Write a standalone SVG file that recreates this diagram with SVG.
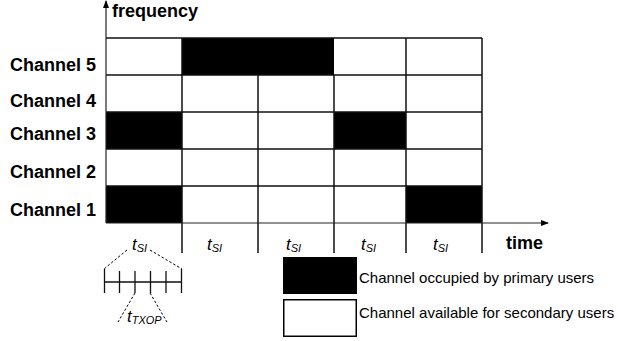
<svg xmlns="http://www.w3.org/2000/svg" width="618" height="341" viewBox="0 0 618 341">
<style>
.lbl{font-family:"Liberation Sans",Arial,sans-serif;font-weight:bold;font-size:18px;fill:#000}
.leg{font-family:"Liberation Sans",Arial,sans-serif;font-size:15px;fill:#000}
.it{font-family:"Liberation Sans",Arial,sans-serif;font-style:italic;fill:#000}
.grid{stroke:#111;stroke-width:1.5;fill:none}
.ax{stroke:#222;stroke-width:1.2;fill:none}
.dash{stroke:#000;stroke-width:1;stroke-dasharray:2.5,2;fill:none}
.occ{fill:#000}
</style>
<defs>
<marker id="arr" markerWidth="8" markerHeight="6" refX="7" refY="3" orient="auto" markerUnits="userSpaceOnUse">
<path d="M0,0 L8,3 L0,6 Z" fill="#000"/>
</marker>
</defs>
<rect width="618" height="341" fill="#fff"/>
<g id="occupied-cells">
<rect class="occ" x="182" y="38" width="152" height="37"/>
<rect class="occ" x="106" y="112" width="76" height="37"/>
<rect class="occ" x="334" y="112" width="72" height="37"/>
<rect class="occ" x="106" y="186" width="76" height="37"/>
<rect class="occ" x="406" y="186" width="76" height="37"/>
</g>
<g id="grid">
<path class="grid" d="M106,38 H482 M106,75 H482 M106,112 H482 M106,149 H482 M106,186 H482"/>
<path class="grid" d="M182,38 V253 M258,75 V253 M334,75 V253 M406,38 V253 M482,38 V253"/>
</g>
<g id="connectors">
<line class="ax" x1="106" y1="223" x2="106" y2="1" marker-end="url(#arr)"/>
<line class="ax" x1="106" y1="223" x2="548" y2="223" marker-end="url(#arr)"/>
<path class="dash" d="M127,250 L104,269 M150,250 L182,269 M135,293 L118,322 M150,293 L167,322"/>
</g>
<g id="axis-labels">
<text class="lbl" x="112" y="17">frequency</text>
<text class="lbl" x="506" y="249">time</text>
</g>
<g id="channel-labels">
<text class="lbl" x="96" y="71" text-anchor="end">Channel 5</text>
<text class="lbl" x="96" y="107" text-anchor="end">Channel 4</text>
<text class="lbl" x="96" y="140" text-anchor="end">Channel 3</text>
<text class="lbl" x="96" y="178" text-anchor="end">Channel 2</text>
<text class="lbl" x="96" y="216" text-anchor="end">Channel 1</text>
</g>
<g id="slot-labels">
<text class="it" x="132" y="250" font-size="17">t<tspan font-size="11" dy="2">SI</tspan></text>
<text class="it" x="207" y="250" font-size="17">t<tspan font-size="11" dy="2">SI</tspan></text>
<text class="it" x="286" y="250" font-size="17">t<tspan font-size="11" dy="2">SI</tspan></text>
<text class="it" x="361" y="250" font-size="17">t<tspan font-size="11" dy="2">SI</tspan></text>
<text class="it" x="433" y="250" font-size="17">t<tspan font-size="11" dy="2">SI</tspan></text>
</g>
<g id="subdivision">
<path class="grid" style="stroke-width:1.3" d="M104,282 H182 M104.5,269 V293 M119.5,271 V293 M135,271 V293 M150.5,271 V293 M166,271 V293 M181.5,269 V293"/>
<text class="it" x="127" y="321.5" font-size="17">t<tspan font-size="11" dy="2.5">TXOP</tspan></text>
</g>
<g id="legend-occupied">
<rect x="283" y="257" width="74" height="37" fill="#000"/>
<text class="leg" x="359" y="283">Channel occupied by primary users</text>
</g>
<g id="legend-available">
<rect x="283.75" y="299.75" width="72.5" height="36.5" fill="#fff" stroke="#000" stroke-width="1.5"/>
<text class="leg" x="359" y="317.5">Channel available for secondary users</text>
</g>
</svg>
